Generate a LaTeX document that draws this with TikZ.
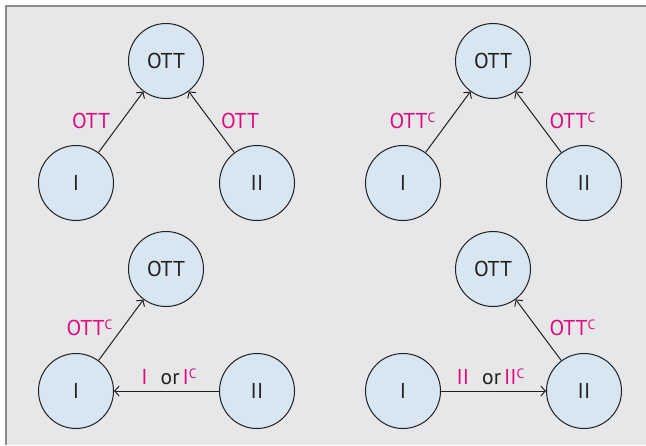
\documentclass[tikz,border=0pt]{standalone}
\usepackage{fontspec}
\setmainfont{PT Sans}
\usetikzlibrary{arrows.meta}
\definecolor{panelbg}{HTML}{E6E7E9}
\definecolor{framegray}{HTML}{8C8C8E}
\definecolor{nodefill}{HTML}{D7E6F1}
\definecolor{nodeline}{HTML}{231F20}
\definecolor{hot}{HTML}{E5097F}
\newcommand{\compl}{\raisebox{5.8pt}{\fontsize{13.5}{13.5}\selectfont C}}
\tikzset{
  state/.style={circle, draw=nodeline, line width=1pt, fill=nodefill,
    minimum size=75pt, inner sep=0pt, text=nodeline,
    font=\fontsize{21.5}{21.5}\selectfont},
  link/.style={draw=nodeline, line width=1pt,
    -{Straight Barb[length=4.5pt,width=10pt,line width=1pt]}},
  tag/.style={text=hot, inner sep=0pt, font=\fontsize{21.5}{21.5}\selectfont},
}
\begin{document}
\begin{tikzpicture}[x=1pt,y=-1pt]
  \useasboundingbox (0,0) rectangle (646,445);
  % panel background with the frame on its top and left sides
  \fill[panelbg] (5,5) rectangle (646,445);
  \draw[framegray, line width=2pt] (6,445) -- (6,6) -- (646,6);

  % top left: both players send OTT
  \node[state] (o1) at (166,61) {OTT};
  \node[state] (p1) at (76,183) {I};
  \node[state] (q1) at (257,183) {II};
  \draw[link] (p1) -- (o1);
  \draw[link] (q1) -- (o1);
  \node[tag] (l1a) at (91,121) {OTT};
  \node[tag] (l1b) at (240,121) {OTT};

  % top right: both players send the complement
  \node[state] (o2) at (493,61) {OTT};
  \node[state] (p2) at (403,183) {I};
  \node[state] (q2) at (584,183) {II};
  \draw[link] (p2) -- (o2);
  \draw[link] (q2) -- (o2);
  \node[tag] (l2a) at (412.5,121) {OTT\compl};
  \node[tag] (l2b) at (572.5,121) {OTT\compl};

  % bottom left: II forwards to I
  \node[state] (o3) at (166,269) {OTT};
  \node[state] (p3) at (76,391) {I};
  \node[state] (q3) at (257,391) {II};
  \draw[link] (p3) -- (o3);
  \draw[link] (q3) -- (p3);
  \node[tag] (l3a) at (89.5,327.5) {OTT\compl};
  \node[tag] (l3b) at (169,376.5) {I\hspace{13pt}\textcolor{nodeline}{or}\hspace{3pt}I\compl};

  % bottom right: I forwards to II
  \node[state] (o4) at (493,269) {OTT};
  \node[state] (p4) at (403,391) {I};
  \node[state] (q4) at (584,391) {II};
  \draw[link] (q4) -- (o4);
  \draw[link] (p4) -- (q4);
  \node[tag] (l4a) at (572.5,327.5) {OTT\compl};
  \node[tag] (l4b) at (490.5,376.5) {II\hspace{13pt}\textcolor{nodeline}{or}\hspace{3pt}II\compl};
\end{tikzpicture}
\end{document}
